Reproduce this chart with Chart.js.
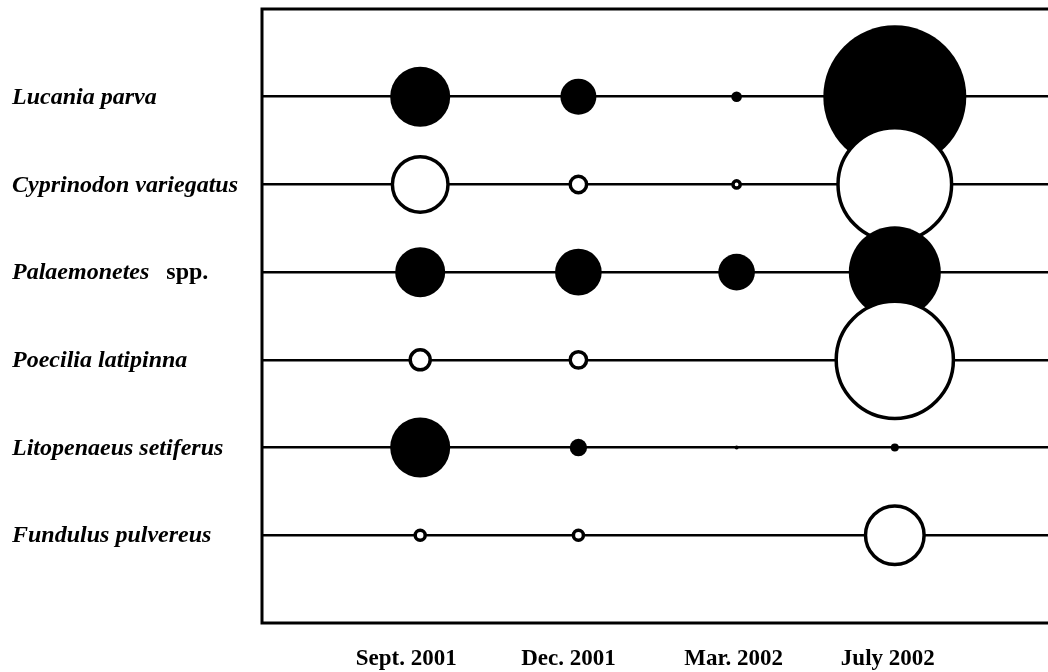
<!DOCTYPE html>
<html>
<head>
<meta charset="utf-8">
<title>Species abundance by sampling date</title>
<script src="https://cdn.jsdelivr.net/npm/chart.js@4.4.1/dist/chart.umd.min.js"></script>
<style>
  html, body { margin: 0; padding: 0; background: #fff; overflow: hidden; }
  #wrap { width: 1060px; height: 672px; }
</style>
</head>
<body>
<div id="wrap"><canvas id="chart" width="1060" height="672"></canvas></div>
<script>
// Sampling dates (columns)
const sampleDates = ['Sept. 2001', 'Dec. 2001', 'Mar. 2002', 'July 2002'];

// Species (rows), top to bottom; genus/species in italics, optional plain suffix
const speciesNames = ['Lucania parva', 'Cyprinodon variegatus', 'Palaemonetes', 'Poecilia latipinna', 'Litopenaeus setiferus', 'Fundulus pulvereus'];
const speciesSuffix = ['', '', 'spp.', '', '', ''];

// Bubble sizes per species, one per sampling date (null = not caught)
const lucaniaParva         = [30, 18, 5.3, 71.5];
const cyprinodonVariegatus = [27.8, 8.2, 3.6, 56.8];
const palaemonetesSpp      = [25, 23.3, 18.3, 46];
const poeciliaLatipinna    = [10, 8.2, null, 58.6];
const litopenaeusSetiferus = [30, 8.7, 2, 4];
const fundulusPulvereus    = [5, 5, null, 29.3];

const speciesValues = [lucaniaParva, cyprinodonVariegatus, palaemonetesSpp, poeciliaLatipinna, litopenaeusSetiferus, fundulusPulvereus];

const FONT = "'Liberation Serif', 'Times New Roman', serif";

const datasets = speciesValues.map((vals, row) => {
  const open = row % 2 === 1;
  return {
    label: speciesNames[row] + (speciesSuffix[row] ? ' ' + speciesSuffix[row] : ''),
    data: vals.map((v, i) => v == null ? null : { x: i + 1, y: row + 1, r: v }).filter(p => p),
    backgroundColor: open ? '#ffffff' : '#000000',
    borderColor: '#000000',
    borderWidth: open ? 3.5 : 0,
    hoverBorderWidth: open ? 3.5 : 0,
    hoverRadius: 0,
    order: speciesValues.length - row   // lower rows paint over upper rows
  };
});

// Frame around the plot area
const framePlugin = {
  id: 'frame',
  afterDatasetsDraw(chart) {
    const { ctx, chartArea: a } = chart;
    ctx.save();
    ctx.strokeStyle = '#000';
    ctx.lineWidth = 3;
    ctx.strokeRect(a.left, a.top, a.right - a.left, a.bottom - a.top);
    ctx.restore();
  }
};

// Row names on the left and date labels underneath
const labelPlugin = {
  id: 'labels',
  afterDraw(chart) {
    const { ctx, scales } = chart;
    const y = scales.y, x = scales.x;
    ctx.save();
    ctx.fillStyle = '#000';
    ctx.textBaseline = 'middle';
    ctx.textAlign = 'left';
    speciesNames.forEach((name, row) => {
      const py = y.getPixelForValue(row + 1) + 1;
      ctx.font = 'italic bold 24px ' + FONT;
      ctx.fillText(name, 12, py);
      if (speciesSuffix[row]) {
        const w = ctx.measureText(name).width;
        ctx.font = 'bold 24px ' + FONT;
        ctx.fillText(speciesSuffix[row], 12 + w + 17, py);
      }
    });
    const nudge = [-14, -10, -3, -7];
    ctx.textAlign = 'center';
    ctx.font = 'bold 23px ' + FONT;
    sampleDates.forEach((d, i) => {
      ctx.fillText(d, x.getPixelForValue(i + 1) + nudge[i], 659);
    });
    ctx.restore();
  }
};

new Chart(document.getElementById('chart'), {
  type: 'bubble',
  data: { datasets },
  options: {
    responsive: false,
    animation: false,
    devicePixelRatio: 1,
    layout: { autoPadding: false, padding: { left: 262, top: 9, right: 7, bottom: 49 } },
    plugins: { legend: { display: false }, tooltip: { enabled: false } },
    scales: {
      x: {
        type: 'linear', min: 0, max: 5,
        ticks: { display: false },
        grid: { display: false, drawTicks: false },
        border: { display: false }
      },
      y: {
        type: 'linear', min: 0, max: 7, reverse: true,
        afterBuildTicks(scale) {
          scale.ticks = speciesNames.map((_, i) => ({ value: i + 1 }));
        },
        ticks: { display: false },
        grid: { color: '#000', lineWidth: 2.5, drawTicks: false },
        border: { display: false }
      }
    }
  },
  plugins: [framePlugin, labelPlugin]
});
</script>
</body>
</html>
